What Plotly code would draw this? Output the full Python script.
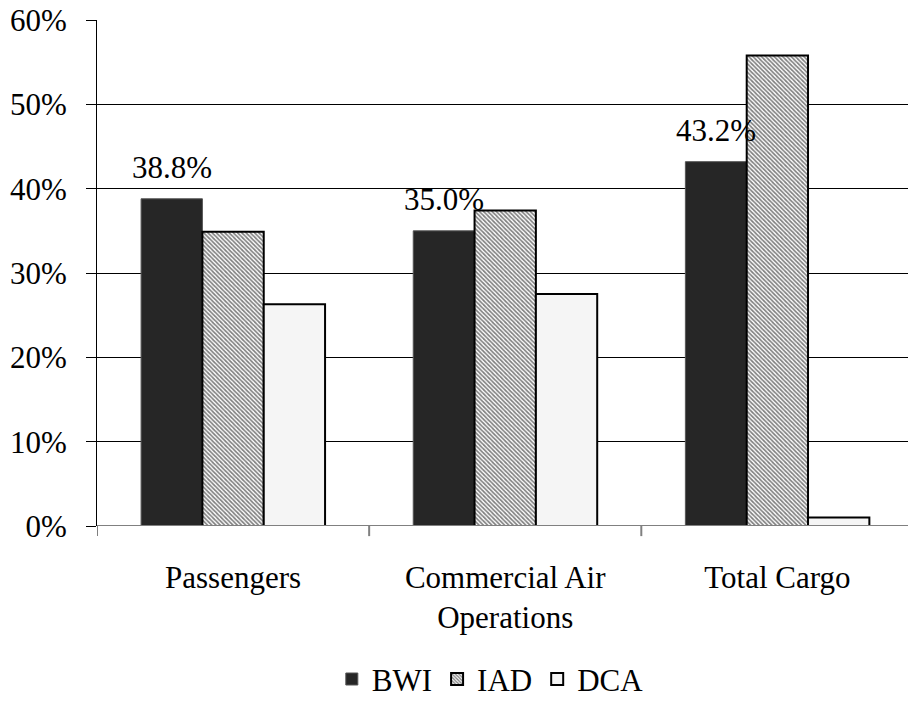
import plotly.graph_objects as go

# Share of regional activity by airport
categories = ["Passengers", "Commercial Air<br>Operations", "Total Cargo"]
bwi = [38.8, 35.0, 43.2]
iad = [34.9, 37.4, 55.8]
dca = [26.3, 27.5, 1.0]
y_ticks = [0, 10, 20, 30, 40, 50, 60]
y_tick_text = ["0%", "10%", "20%", "30%", "40%", "50%", "60%"]
grid_levels = [10, 20, 30, 40, 50]

FONT = "Liberation Serif"
FS = 31
x_idx = list(range(len(categories)))

fig = go.Figure()
fig.add_trace(go.Bar(
    name="BWI", x=x_idx, y=bwi,
    marker=dict(color="#262626", line=dict(color="#555555", width=1)),
))
fig.add_trace(go.Bar(
    name="IAD", x=x_idx, y=iad,
    marker=dict(color="white", line=dict(color="black", width=2),
                pattern=dict(shape="\\", fgcolor="black", bgcolor="white",
                             size=3, solidity=0.55)),
))
fig.add_trace(go.Bar(
    name="DCA", x=x_idx, y=dca,
    marker=dict(color="#f5f5f5", line=dict(color="black", width=2)),
))

# Value labels above the BWI bars
for i, v in enumerate(bwi):
    fig.add_annotation(
        x=i, y=v, xref="x", yref="y", text=f"{v:.1f}%",
        showarrow=False, xshift=-61, yshift=12, yanchor="bottom",
        font=dict(family=FONT, size=FS, color="black"),
    )

# Horizontal gridlines on a companion axis (no line at the top edge)
fig.add_trace(go.Scatter(x=[0], y=[0], yaxis="y2", mode="markers",
                         marker=dict(opacity=0), showlegend=False,
                         hoverinfo="skip"))

fig.update_layout(
    width=908, height=704,
    margin=dict(l=97, r=0, t=20, b=178, autoexpand=False),
    paper_bgcolor="white", plot_bgcolor="white",
    barmode="group", bargap=0.324, bargroupgap=0,
    font=dict(family=FONT, size=FS, color="black"),
    xaxis=dict(
        type="linear", range=[-0.5, 2.48], automargin=False,
        tickvals=x_idx, ticktext=categories, ticks="",
        showgrid=False, zeroline=False, showline=False,
        ticklabelstandoff=30,
        tickfont=dict(family=FONT, size=FS, color="black"),
    ),
    yaxis=dict(
        range=[0, 60], tickvals=y_ticks, ticktext=y_tick_text,
        automargin=False,
        showgrid=False, zeroline=False,
        showline=True, linecolor="black", linewidth=1,
        ticks="outside", ticklen=10, tickcolor="black",
        ticklabelstandoff=13,
        tickfont=dict(family=FONT, size=FS, color="black"),
    ),
    yaxis2=dict(
        range=[0, 60], overlaying="y", tickvals=grid_levels,
        automargin=False,
        showticklabels=False, showgrid=True, gridcolor="black",
        gridwidth=1, zeroline=False, showline=False, ticks="",
        layer="below traces",
    ),
    legend=dict(
        orientation="h", xref="container", yref="container",
        x=0.54, xanchor="center", y=0.035, yanchor="middle",
        font=dict(family=FONT, size=FS, color="black"),
        itemwidth=30, tracegroupgap=0,
    ),
    showlegend=True,
)

# Baseline and category boundary ticks
fig.add_shape(type="line", xref="paper", yref="y", x0=0, x1=1, y0=0, y1=0,
              line=dict(color="#808080", width=2))
for b in [-0.5, 0.5, 1.5]:
    fig.add_shape(type="line", xref="x", yref="paper", x0=b, x1=b,
                  y0=0, y1=-0.02, line=dict(color="#808080", width=2))

fig.write_html("out.html")
